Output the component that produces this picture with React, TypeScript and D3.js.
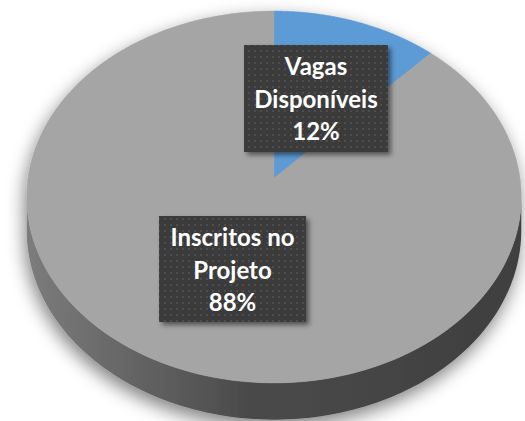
import React from "react";
import * as d3 from "d3";

const categories = ["Vagas Disponíveis", "Inscritos no Projeto"];
const values = [12, 88];
const labelLines = [["Vagas", "Disponíveis", "12%"], ["Inscritos no", "Projeto", "88%"]];
const colors = ["#5b9bd5", "#a5a5a5"];

const W = 525, H = 421;
const CX = 274, CY = 178, A = 246, B = 184, E = 0.102, DEPTH = 33;

function proj(theta: number, r: number, down = 0): [number, number] {
  const u = r * Math.sin(theta), v = r * Math.cos(theta);
  const s = 1 / (1 + E * v);
  return [CX + A * u * s, CY - B * v * s + down * s];
}

function arcPts(a0: number, a1: number, r: number, down = 0, n = 120): [number, number][] {
  const pts: [number, number][] = [];
  for (let i = 0; i <= n; i++) pts.push(proj(a0 + (a1 - a0) * (i / n), r, down));
  return pts;
}

const line = d3.line();

// label layout (box centers and sizes)
const labelBoxes = [
  { cx: 316, cy: 98.5, w: 144, h: 107 },
  { cx: 232.5, cy: 269, w: 147, h: 106 },
];

export default function App() {
  const pie = d3.pie<number>().sort(null).value((d) => d)(values);
  const th1 = Math.acos(-E), th2 = 2 * Math.PI - Math.acos(-E);
  const topEdge = arcPts(th1, th2, 1, 0);
  const botEdge = arcPts(th2, th1, 1, DEPTH);
  const sidePath = line([...topEdge, ...botEdge]) + "Z";
  return (
    <svg width={W} height={H} style={{ position: "absolute", left: 0, top: 0 }}>
      <defs>
        <filter id="pieShadow" x="-20%" y="-20%" width="140%" height="150%">
          <feGaussianBlur in="SourceAlpha" stdDeviation="9" />
          <feOffset dx="-2" dy="7" result="b" />
          <feComponentTransfer>
            <feFuncA type="linear" slope="0.5" />
          </feComponentTransfer>
          <feMerge>
            <feMergeNode />
            <feMergeNode in="SourceGraphic" />
          </feMerge>
        </filter>
        <filter id="boxShadow" x="-20%" y="-20%" width="140%" height="140%">
          <feGaussianBlur in="SourceAlpha" stdDeviation="2.5" />
          <feOffset dx="3" dy="3" />
          <feComponentTransfer>
            <feFuncA type="linear" slope="0.5" />
          </feComponentTransfer>
          <feMerge>
            <feMergeNode />
            <feMergeNode in="SourceGraphic" />
          </feMerge>
        </filter>
        <linearGradient id="sideGrad" x1="0" x2="1" y1="0" y2="0">
          <stop offset="0" stopColor="#7c7c7c" />
          <stop offset="0.45" stopColor="#4a4a4a" />
          <stop offset="1" stopColor="#3f3f3f" />
        </linearGradient>
        <pattern id="dots" width="6" height="6" patternUnits="userSpaceOnUse">
          <rect width="6" height="6" fill="#3a3a3a" />
          <rect x="2" y="2" width="2" height="2" fill="#4d4d4d" />
        </pattern>
      </defs>
      <g filter="url(#pieShadow)">
        <path d={sidePath} fill="url(#sideGrad)" />
        {pie.map((p, i) => {
          const pts: [number, number][] = [[CX, CY], ...arcPts(p.startAngle, p.endAngle, 1, 0, 200)];
          return <path key={categories[i]} d={line(pts) + "Z"} fill={colors[i]} stroke={colors[i]} strokeWidth={0.5} />;
        })}
      </g>
      {labelBoxes.map((b, i) => {
        const top = b.cy - b.h / 2;
        return (
          <g key={categories[i]}>
            <rect x={b.cx - b.w / 2} y={top} width={b.w} height={b.h} fill="url(#dots)" filter="url(#boxShadow)" />
            {labelLines[i].map((t, j) => (
              <text
                key={j}
                x={b.cx}
                y={top + 30 + j * 32.5}
                textAnchor="middle"
                fill="#ffffff"
                fontFamily="Lato, 'Open Sans', sans-serif"
                fontWeight="bold"
                fontSize={24}
              >
                {t}
              </text>
            ))}
          </g>
        );
      })}
    </svg>
  );
}
